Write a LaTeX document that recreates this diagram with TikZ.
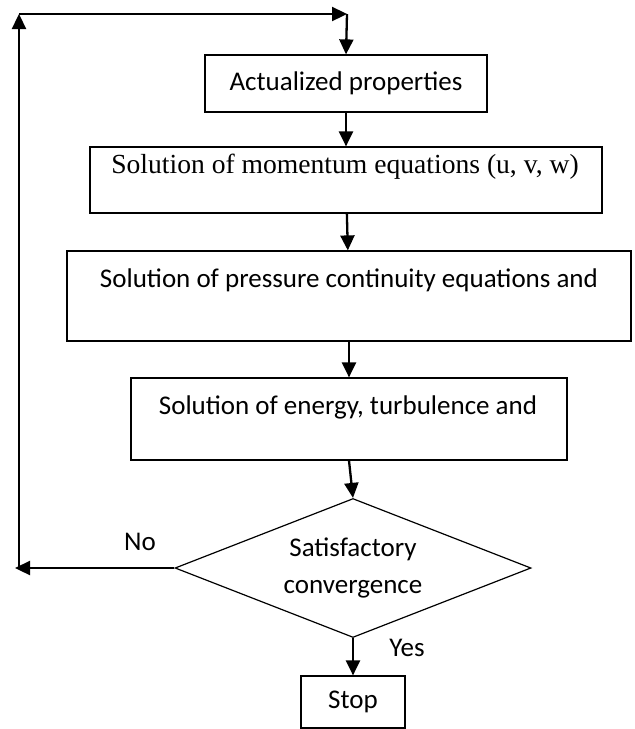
\documentclass[tikz,border=0pt]{standalone}
\usepackage{fontspec}
\setmainfont{Carlito}
\newfontfamily\timesfont{Liberation Serif}
\usetikzlibrary{arrows.meta,shapes.geometric}

\begin{document}
\begin{tikzpicture}[x=1pt,y=-1pt,
        box/.style={draw,line width=1.2pt,inner sep=0pt},
        conn/.style={line width=2.3pt,-{Triangle[length=15pt,width=14pt]}},
        txt/.style={inner sep=0pt,font=\fontsize{27}{37}\selectfont}]
        \useasboundingbox (0,0) rectangle (635,729);
        \node[box,txt,minimum width=282pt,minimum height=57pt] (props) at (346,83.5) {Actualized properties};
        \node[box,minimum width=512pt,minimum height=66pt] (mom) at (346,180) {};
        \node[box,minimum width=564pt,minimum height=90pt] (press) at (349,296) {};
        \node[box,minimum width=436pt,minimum height=82pt] (energy) at (349,419) {};
        \node[box,diamond,aspect=2.56,txt,align=center,minimum width=356pt,minimum height=139pt] (conv) at (353,568) {Satisfactory\\convergence};
        \node[box,txt,minimum width=104pt,minimum height=52pt] (stop) at (353,702) {Stop};
        \node[txt,font=\timesfont\fontsize{27.6}{37}\selectfont] (momtxt) at (345,167) {Solution of momentum equations (u, v, w)};
        \node[txt] (presstxt) at (349,280) {Solution of pressure continuity equations and};
        \node[txt] (energytxt) at (348,407) {Solution of energy, turbulence and};
        \node[txt] (no) at (140,542) {No};
        \node[txt] (yes) at (407,648) {Yes};
        \coordinate (noend) at (15,568);
        \coordinate (loopbot) at (19,568);
        \coordinate (loopcorner) at (19,14);
        \coordinate (toptip) at (347,14);
        \draw[conn] (props) -- (mom);
        \draw[conn] (mom) -- (press);
        \draw[conn] (press) -- (energy);
        \draw[conn] (energy.south) -- (conv.north);
        \draw[conn] (conv.south) -- (stop.north);
        \draw[conn] (conv.west) -- (noend);
        \draw[conn] (loopbot) -- (loopcorner);
        \draw[conn] (loopcorner) -- (toptip);
        \draw[conn] (toptip) -- (props.north);
\end{tikzpicture}
\end{document}
